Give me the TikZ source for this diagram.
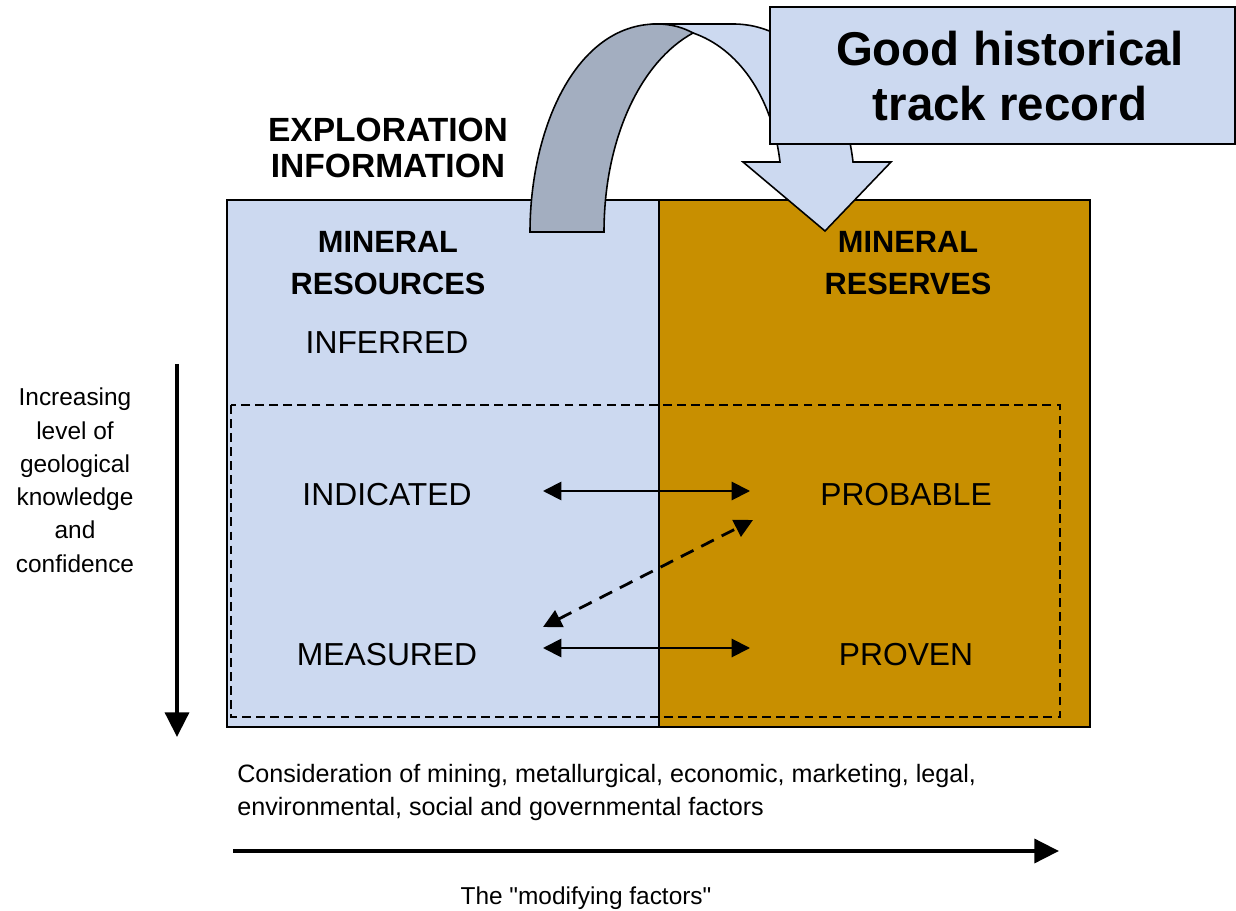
\documentclass[tikz,border=0pt]{standalone}
\usepackage{fontspec}
\setmainfont{Liberation Sans}
\usetikzlibrary{arrows.meta}

\definecolor{resblue}{RGB}{204,217,240}
\definecolor{resgold}{RGB}{200,143,0}
\definecolor{bandgray}{RGB}{163,174,192}

\begin{document}
\begin{tikzpicture}[x=0.02cm,y=-0.02cm,
    title/.style={font=\bfseries\fontsize{17.5}{24.2}\selectfont,align=center,anchor=base,inner sep=0pt},
    grade/.style={font=\fontsize{18.1}{21}\selectfont,anchor=base,inner sep=0pt},
    note/.style={font=\fontsize{13.9}{18.9}\selectfont,anchor=base,inner sep=0pt},
    twoway/.style={{Triangle[length=10.5pt,width=10.5pt]}-{Triangle[length=10.5pt,width=10.5pt]},line width=1.1pt},
    bigarrow/.style={-{Triangle[length=14pt,width=13.5pt]},line width=2.4pt}]
    \useasboundingbox (0,0) rectangle (1236,911);
    %% resources and reserves
    \draw[fill=resblue,line width=0.9pt] (227,200) rectangle (659,727);
    \draw[fill=resgold,line width=0.9pt] (659,200) rectangle (1090,727);
    \draw[dashed,line width=0.7pt,dash pattern=on 5pt off 3pt] (231,405) rectangle (1060,717);
    %% curved arrow, back face
    \draw[fill=resblue,line width=0.9pt] (657,24) -- (733,24)
        .. controls (800,24) and (845,90) .. (853,162) -- (891,162) -- (825,231)
        -- (743,162) -- (780,162) .. controls (772,95) and (737,48) .. (693,33) -- cycle;
    %% curved arrow, front face
    \draw[fill=bandgray,line width=0.9pt] (530,232) .. controls (530,130) and (575,24) .. (657,24)
        .. controls (672,24) and (684,28) .. (693,33)
        .. controls (640,62) and (604,140) .. (604,232) -- cycle;
    %% track record box (base = last line)
    \draw[fill=resblue,line width=0.9pt] (770,7) rectangle (1235,144);
    \node[title,font=\bfseries\fontsize{27}{31.7}\selectfont] (track) at (1010,121) {Good historical\\track record};
    %% headings
    \node[title,font=\bfseries\fontsize{19.1}{20.8}\selectfont] (explore) at (388,178) {EXPLORATION\\INFORMATION};
    \node[title] (resources) at (388,295) {MINERAL\\RESOURCES};
    \node[title] (reserves) at (908,295) {MINERAL\\RESERVES};
    %% categories
    \node[grade] (inferred) at (387,354) {INFERRED};
    \node[grade] (indicated) at (387,505) {INDICATED};
    \node[grade] (measured) at (387,665) {MEASURED};
    \node[grade] (probable) at (906,505) {PROBABLE};
    \node[grade] (proven) at (906,665) {PROVEN};
    %% conversions
    \coordinate (ind-r) at (543,491);
    \coordinate (prob-l) at (750,491);
    \coordinate (mea-r) at (543,648);
    \coordinate (prov-l) at (750,648);
    \coordinate (mea-up) at (543,627);
    \coordinate (prob-dn) at (753,520);
    \draw[twoway] (ind-r) -- (prob-l);
    \draw[twoway] (mea-r) -- (prov-l);
    \draw[twoway,dashed,dash pattern=on 8pt off 5pt,line width=1.6pt] (mea-up) -- (prob-dn);
    %% knowledge axis
    \coordinate (know-top) at (177,364);
    \coordinate (know-end) at (177,737);
    \draw[bigarrow] (know-top) -- (know-end);
    \node[note,align=center] (knowledge) at (75,572) {Increasing\\level of\\geological\\knowledge\\and\\confidence};
    %% modifying factors axis
    \node[note,align=left,anchor=base west,font=\fontsize{14.3}{18.7}\selectfont] (factors) at (237,815) {Consideration of mining, metallurgical, economic, marketing, legal,\\environmental, social and governmental factors};
    \coordinate (mod-start) at (233,851);
    \coordinate (mod-end) at (1059,851);
    \draw[bigarrow] (mod-start) -- (mod-end);
    \node[note] (modifying) at (586,904) {The \textquotedbl modifying factors\textquotedbl};
\end{tikzpicture}
\end{document}
